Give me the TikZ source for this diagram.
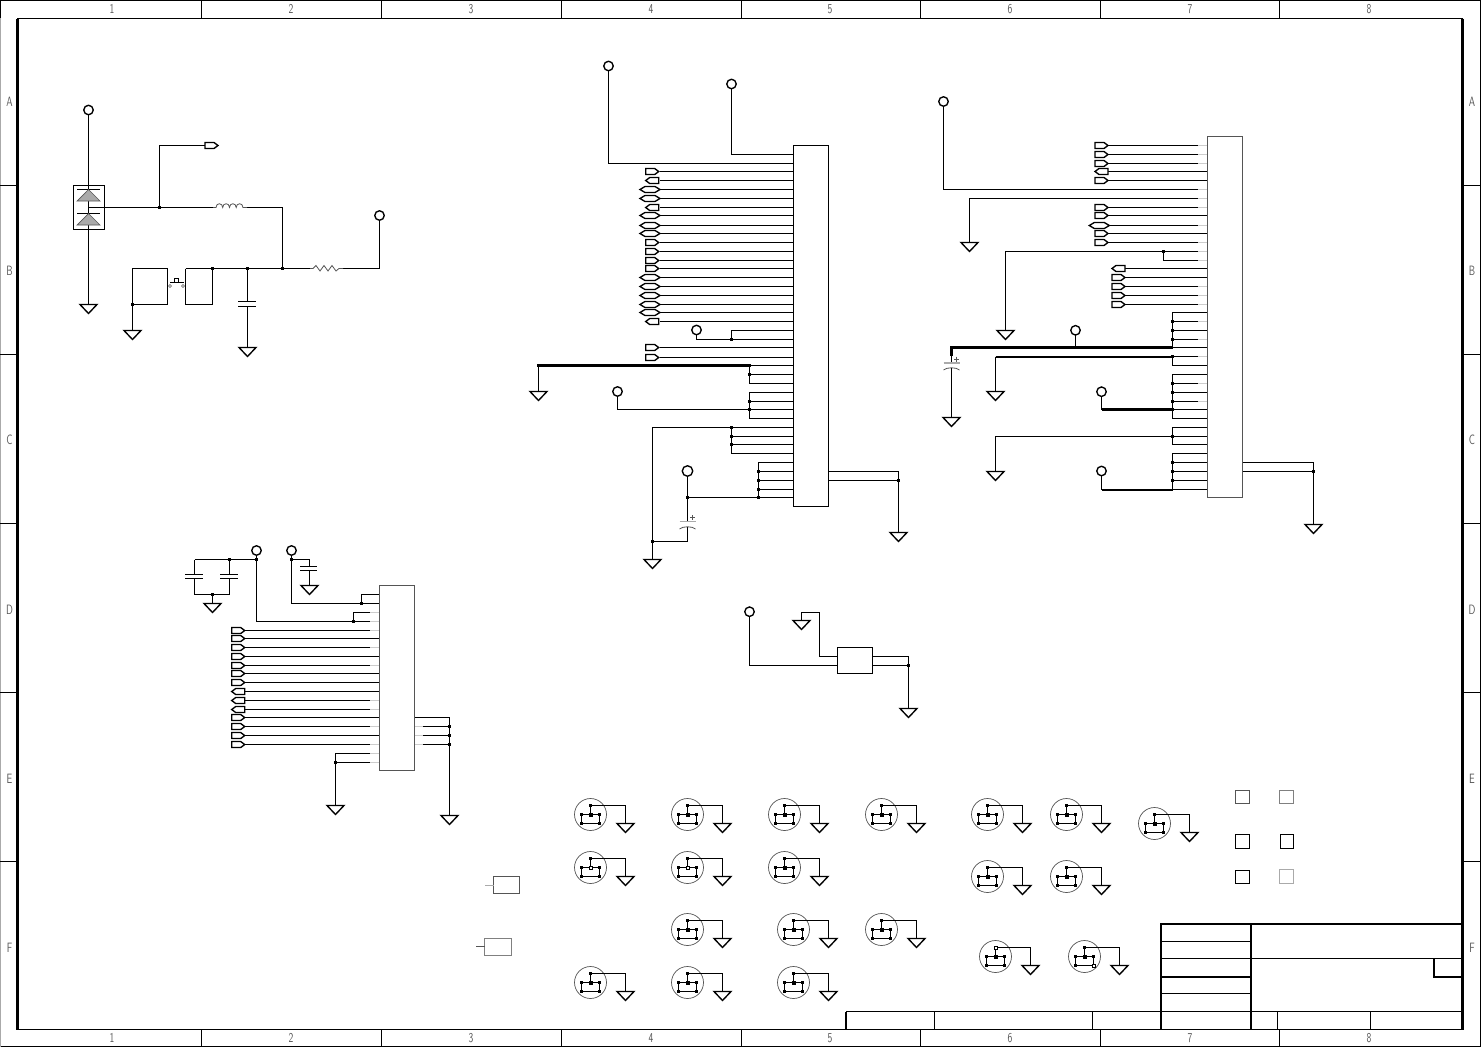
\documentclass[tikz,border=0pt]{standalone}
\definecolor{symgray}{HTML}{AAAAAA}
\definecolor{icgray}{HTML}{555555}
\definecolor{stubgray}{HTML}{CCCCCC}
\definecolor{labgray}{HTML}{555555}
\tikzset{
  wire/.style={line width=1.2pt,black,line join=miter},
  thin part/.style={line width=.8pt,icgray},
  gsym/.style={line width=1.35pt,black,fill=white,line join=miter},
  vcc/.style={circle,draw=black,fill=white,line width=1.35pt,minimum size=9.5pt,inner sep=0pt,outer sep=0pt},
  jct/.style={rectangle,fill=black,minimum size=3.4pt,inner sep=0pt,outer sep=0pt},
  ic/.style={rectangle,draw=black,line width=1.2pt,inner sep=0pt,outer sep=0pt},
  icg/.style={rectangle,draw=icgray,line width=1.2pt,inner sep=0pt,outer sep=0pt},
  stub/.style={line width=1.2pt,stubgray},
  holec/.style={circle,draw=icgray,line width=.7pt,minimum size=32pt,inner sep=0pt,outer sep=0pt},
  lab/.style={text=labgray,font=\sffamily\fontsize{13.5}{13.5}\selectfont,inner sep=0pt},
  frame/.style={line width=1.4pt,black},
  tb/.style={line width=1.9pt,black},
  tbthin/.style={line width=1.1pt,black},
  padbox/.style={rectangle,line width=1pt,inner sep=0pt,outer sep=0pt}
}
\newcommand\gnd[3]{\coordinate (#1) at (#2,#3);\draw[gsym] (#2-8.5,#3) -- (#2+8.5,#3) -- (#2,#3+9) -- cycle;}
\newcommand\portR[3]{\coordinate (#1) at (#2+13,#3);\draw[gsym] (#2,#3-3) -- (#2+9,#3-3) -- (#2+13,#3) -- (#2+9,#3+3) -- (#2,#3+3) -- cycle;}
\newcommand\portL[3]{\coordinate (#1) at (#2+13,#3);\draw[gsym] (#2+13,#3-3) -- (#2+4,#3-3) -- (#2,#3) -- (#2+4,#3+3) -- (#2+13,#3+3) -- cycle;}
\newcommand\portB[3]{\coordinate (#1) at (#2+14.3,#3);\draw[gsym] (#2-5.7,#3) -- (#2-.7,#3-3) -- (#2+9.3,#3-3) -- (#2+14.3,#3) -- (#2+9.3,#3+3) -- (#2-.7,#3+3) -- cycle;}
\newcommand\mth[4][black]{%
  \node[holec] (#2c) at (#3,#4) {};
  \draw[line width=1.05pt,black] (#3-9,#4) rectangle (#3+9,#4+9);
  \node[jct] (#2t) at (#3,#4-9) {};
  \node[jct,fill=#1,draw=black,line width=.4pt,minimum size=2.8pt] (#2m) at (#3,#4) {};
  \node[jct] (#2a) at (#3-9,#4) {};
  \node[jct] (#2b) at (#3+9,#4) {};
  \node[jct] (#2d) at (#3-9,#4+9) {};
  \node[jct] (#2e) at (#3+9,#4+9) {};
  \draw[line width=1.05pt,black] (#2t) -- (#2m);
  \gnd{#2g}{#3+35}{#4+9}
  \draw[wire] (#2t) -| (#2g);
}
\begin{document}
\begin{tikzpicture}[x=1pt,y=-1pt]
\useasboundingbox (0,0) rectangle (1481,1047);
\fill[white] (0,0) rectangle (1481,1047);
% ---- sheet frame
\draw[frame] (.7,.7) rectangle (1480.3,1046.3);
\draw[frame] (17.5,18.5) rectangle (1462.5,1029.5);
\draw[line width=2.4pt] (17.5,18.5) -- (17.5,1029.5);
\draw[line width=2.4pt] (1462.5,18.5) -- (1462.5,1029.5);
\draw[symgray,line width=1.5pt] (.5,18) -- (.5,1047);
\foreach \x in {201.5,381.5,561.5,741.5,920.5,1100.5,1279.5}{
  \draw[wire] (\x,0) -- (\x,18.5);
  \draw[wire] (\x,1029.5) -- (\x,1046);
}
\foreach \y in {185.5,354.5,523.5,692.5,861.5}{
  \draw[wire,line width=1.4pt] (0,\y) -- (17.5,\y);
  \draw[wire,line width=1.4pt] (1462.5,\y) -- (1480,\y);
}
\foreach \n/\x in {1/112,2/291,3/471,4/651,5/830,6/1010,7/1190,8/1369}{
  \node[lab] (ct\n) at (\x,9.3) {\scalebox{.72}[1]{\n}};
  \node[lab] (cb\n) at (\x,1038.3) {\scalebox{.72}[1]{\n}};
}
\foreach \n/\y in {A/101.5,B/270.5,C/439.5,D/609.5,E/778.5,F/947.5}{
  \node[lab] (rl\n) at (9.5,\y) {\scalebox{.72}[1]{\n}};
  \node[lab] (rr\n) at (1472,\y) {\scalebox{.72}[1]{\n}};
}
% ---- title block
\draw[tb] (1161,1029.5) -- (1161,924) -- (1462.5,924);
\draw[tb] (1251,924) -- (1251,1029.5);
\draw[tbthin] (1161,941.5) -- (1251,941.5);
\draw[tb] (1161,958.5) -- (1462.5,958.5);
\draw[tb] (1161,977) -- (1251,977);
\draw[tb] (1161,993.5) -- (1251,993.5);
\draw[tb] (846,1011.5) -- (1462.5,1011.5);
\draw[tb] (846,1011.5) -- (846,1029.5);
\draw[tbthin] (934.5,1011.5) -- (934.5,1029.5);
\draw[tbthin] (1092.5,1011.5) -- (1092.5,1029.5);
\draw[tbthin] (1277.5,1011.5) -- (1277.5,1029.5);
\draw[tb] (1370.5,1011.5) -- (1370.5,1029.5);
\draw[tb] (1434,958.5) -- (1434,977) -- (1462.5,977);

% ---- block 1 : supply
\node[vcc] (V1) at (88.5,110) {};
\gnd{G1}{88.5}{304.5}
\draw[wire] (V1.south) -- (G1);
\node[ic,minimum width=31pt,minimum height=44pt] (D1) at (89,207.5) {};
\foreach \y in {189.5,213.5}{
  \draw[line width=.9pt,black] (77,\y) -- (100,\y);
  \draw[line width=.7pt,icgray,fill=symgray] (88.5,\y) -- (100,\y+11.5) -- (77,\y+11.5) -- cycle;
}
\coordinate (Dm) at (88.5,207.5);
\node[jct] (J1) at (159.5,207.5) {};
\coordinate (L1a) at (213,207.5);
\coordinate (L1b) at (247,207.5);
\node[jct] (J2) at (282.5,268.5) {};
\draw[wire] (Dm) -- (J1) -- (L1a);
\draw[wire] (L1b) -| (J2);
\draw[thin part] (L1a) -- (216,207.5) .. controls (216,202.5) and (222.7,202.5) .. (222.7,207.5)
  .. controls (222.7,202.5) and (229.5,202.5) .. (229.5,207.5)
  .. controls (229.5,202.5) and (236.2,202.5) .. (236.2,207.5)
  .. controls (236.2,202.5) and (243,202.5) .. (243,207.5) -- (L1b);
\coordinate (P1w) at (205,145.5);
\draw[wire] (J1) |- (P1w);
\portR{P1}{205}{145.5}
\node[jct] (J3) at (132.5,304.5) {};
\coordinate (S1b) at (167.5,268.5);
\coordinate (S1c) at (167.5,304.5);
\draw[wire] (S1c) -- (J3) |- (S1b) -- (S1c);
\gnd{G2}{132.5}{330.5}
\draw[wire] (J3) -- (G2);
\coordinate (S2a) at (185.5,268.5);
\coordinate (S2b) at (185.5,304.5);
\coordinate (S2c) at (212.5,304.5);
\node[jct] (J4) at (212.5,268.5) {};
\node[jct] (J5) at (247.5,268.5) {};
\coordinate (R1a) at (310,268.5);
\coordinate (R1b) at (343,268.5);
\draw[wire] (J2) -- (R1a);
\draw[wire] (S2a) -- (J4) -- (J5) -- (J2);
\draw[wire] (S2a) -- (S2b) -- (S2c) -- (J4);
\node[vcc] (V2) at (379.5,215.5) {};
\draw[wire] (R1b) -| (V2.south);
\draw[thin part] (R1a) -- (313,268.5) -- (316,265.5) -- (320,271) -- (324,265.5) -- (328,271) -- (332,265.5) -- (336,271) -- (339,268.5) -- (R1b);
% push button
\draw[line width=1.3pt,black] (170,282.5) -- (184,282.5);
\draw[line width=.9pt,black] (174.5,282.5) -- (174.5,278.5) -- (178.5,278.5) -- (178.5,282.5);
\draw[line width=.6pt,icgray] (170,286) circle[radius=1.5];
\draw[line width=.6pt,icgray] (183,286) circle[radius=1.5];
% cap
\coordinate (C1a) at (247.5,301.5);
\coordinate (C1b) at (247.5,306.5);
\gnd{G3}{247.5}{347.5}
\draw[wire] (J5) -- (C1a);
\draw[wire] (C1b) -- (G3);
\draw[line width=1.2pt] (238,301.5) -- (256,301.5);
\draw[line width=1.2pt] (238,306.5) -- (256,306.5);

% ---- block 2 : main IC
\foreach \y in {154,163,171,180,189,198,207,215,225,233,242,251,260,268,277,286,295,304,312,321,330,339,347,357,365,374,383,392,401,409,418,427,436,444,453,462,471,480,489,497}{
  \coordinate (A\y) at (793.5,\y+.5);
}
\foreach \y/\k in {171/R,180/L,189/B,198/B,207/L,215/B,225/B,233/B,242/R,251/R,260/R,268/R,277/B,286/B,295/B,304/B,312/B,321/L,347/R,357/R}{
  \draw[wire] (660,\y.5) -- (A\y);
  \csname port\k\endcsname{pA\y}{645.7}{\y.5}
}
\node[vcc] (V3) at (608.5,66) {};
\draw[wire] (V3.south) |- (A163);
\node[vcc] (V4) at (731.5,84) {};
\draw[wire] (V4.south) |- (A154);
\node[vcc] (V5) at (696.5,330) {};
\node[jct] (J6) at (731.5,339.5) {};
\draw[wire] (V5.south) |- (J6) -- (A339);
\draw[wire] (J6) |- (A330);
% thick ground bus
\coordinate (T1a) at (538.5,365.5);
\coordinate (T1b) at (749.5,365.5);
\draw[line width=3pt,black,line cap=rect] (T1a) -- (T1b);
\gnd{G4}{538.5}{391.5}
\draw[wire] (T1a) -- (G4);
\node[jct] (J7) at (749.5,374.5) {};
\coordinate (T1c) at (749.5,383.5);
\draw[wire] (T1b) -- (A365);
\draw[wire] (J7) -- (A374);
\draw[wire] (T1b) -- (T1c) -- (A383);
% supply group
\coordinate (T2a) at (749.5,392.5);
\coordinate (T2b) at (749.5,418.5);
\node[jct] (J8) at (749.5,401.5) {};
\node[jct] (J9) at (749.5,409.5) {};
\draw[wire] (A392) -- (T2a) -- (T2b) -- (A418);
\draw[wire] (J8) -- (A401);
\draw[wire] (J9) -- (A409);
\node[vcc] (V6) at (617.5,391.5) {};
\draw[wire] (V6.south) |- (J9);
% ground group
\node[jct] (J10) at (731.5,427.5) {};
\node[jct] (J11) at (731.5,436.5) {};
\node[jct] (J12) at (731.5,444.5) {};
\coordinate (T3b) at (731.5,453.5);
\draw[wire] (J10) -- (A427);
\draw[wire] (J11) -- (A436);
\draw[wire] (J12) -- (A444);
\draw[wire] (J10) -- (T3b) -- (A453);
\gnd{G5}{652.5}{559.5}
\node[jct] (J13) at (652.5,541.5) {};
\draw[wire] (J10) -| (G5);
% decoupling
\node[vcc,minimum size=10.5pt] (V7) at (687.5,471) {};
\node[jct] (J14) at (687.5,497.5) {};
\node[jct] (J15) at (758.5,471.5) {};
\node[jct] (J16) at (758.5,480.5) {};
\node[jct] (J17) at (758.5,489.5) {};
\node[jct] (J18) at (758.5,497.5) {};
\coordinate (T4a) at (758.5,462.5);
\draw[wire] (V7.south) -- (J14) -- (J18) -- (A497);
\draw[wire] (A462) -- (T4a) -- (J18);
\draw[wire] (J15) -- (A471);
\draw[wire] (J16) -- (A480);
\draw[wire] (J17) -- (A489);
\coordinate (C2a) at (687.5,521.5);
\coordinate (C2b) at (687.5,527);
\draw[wire] (J14) -- (C2a);
\draw[wire] (C2b) |- (J13);
\draw[line width=1.2pt,symgray] (679.5,521.5) -- (695.5,521.5);
\draw[line width=.8pt,icgray] (679.5,529) .. controls (683,526) and (692,526) .. (695.5,529);
\draw[line width=.6pt,icgray] (690,517.5) -- (695,517.5) (692.5,515) -- (692.5,520);
\node[ic,minimum width=35pt,minimum height=361pt] (U1) at (811,326) {};
\coordinate (U1r1) at (828.5,471.5);
\coordinate (U1r2) at (828.5,480.5);
\coordinate (T5) at (898.5,471.5);
\node[jct] (J19) at (898.5,480.5) {};
\gnd{G6}{898.5}{532.5}
\draw[wire] (U1r1) -- (T5) -- (J19) -- (G6);
\draw[wire] (U1r2) -- (J19);

% ---- block 3 : second IC
\foreach \y in {145,154,163,171,180,189,198,207,215,225,233,242,251,260,268,277,286,295,304,312,321,330,339,347,356,365,374,383,392,401,409,418,427,436,444,453,462,471,480,489}{
  \coordinate (B\y) at (1207.5,\y+.5);
}
\foreach \y/\k in {145/R,154/R,163/R,171/L,180/R,207/R,215/R,225/B,233/R,242/R}{
  \draw[wire] (1108,\y.5) -- (B\y);
  \csname port\k\endcsname{pB\y}{1095}{\y.5}
}
\foreach \y/\k in {268/L,277/R,286/R,295/R,304/R}{
  \draw[wire] (1125,\y.5) -- (B\y);
  \csname port\k\endcsname{pB\y}{1112}{\y.5}
}
\node[vcc] (V8) at (943.5,101.5) {};
\draw[wire] (V8.south) |- (B189);
\gnd{G7}{969.5}{242.5}
\draw[wire] (G7) |- (B198);
\gnd{G8}{1005.5}{330.5}
\node[jct] (J20) at (1163.5,251.5) {};
\draw[wire] (G8) |- (B251);
\draw[wire] (J20) |- (B260);
% group 1
\coordinate (T6a) at (1172.5,312.5);
\coordinate (T6b) at (1172.5,347.5);
\node[jct] (J21) at (1172.5,321.5) {};
\node[jct] (J22) at (1172.5,330.5) {};
\node[jct] (J23) at (1172.5,339.5) {};
\draw[wire] (B312) -- (T6a) -- (T6b) -- (B347);
\draw[wire] (J21) -- (B321);
\draw[wire] (J22) -- (B330);
\draw[wire] (J23) -- (B339);
\coordinate (T7) at (951.5,347.5);
\coordinate (T7b) at (951.5,356);
\draw[line width=3pt,black] (T7b) -- (T7) -- (T6b);
\node[vcc] (V9) at (1075.5,330.3) {};
\coordinate (T7c) at (1075.5,347.5);
\draw[wire] (V9.south) -- (T7c);
\coordinate (C3a) at (951.5,363);
\coordinate (C3b) at (951.5,368);
\gnd{G9}{951.5}{417.5}
\draw[wire] (T7b) -- (C3a);
\draw[wire] (C3b) -- (G9);
\draw[line width=1.2pt,symgray] (943.5,363) -- (959.5,363);
\draw[line width=.8pt,icgray] (943.5,370) .. controls (947,367) and (956,367) .. (959.5,370);
\draw[line width=.6pt,icgray] (954,359) -- (959,359) (956.5,356.5) -- (956.5,361.5);
% group 2
\node[jct] (J24) at (1172.5,356.5) {};
\coordinate (T8b) at (1172.5,365.5);
\draw[wire] (J24) -- (B356);
\draw[wire] (J24) -- (T8b) -- (B365);
\gnd{G10}{995.5}{391.5}
\coordinate (T8c) at (995.5,356.5);
\draw[line width=2pt,black] (T8c) -- (J24);
\draw[wire] (T8c) -- (G10);
% group 3
\coordinate (T9a) at (1172.5,374.5);
\coordinate (T9b) at (1172.5,418.5);
\node[jct] (J25) at (1172.5,383.5) {};
\node[jct] (J26) at (1172.5,392.5) {};
\node[jct] (J27) at (1172.5,401.5) {};
\node[jct] (J28) at (1172.5,409.5) {};
\draw[wire] (B374) -- (T9a) -- (T9b) -- (B418);
\draw[wire] (J25) -- (B383);
\draw[wire] (J26) -- (B392);
\draw[wire] (J27) -- (B401);
\draw[wire] (J28) -- (B409);
\node[vcc] (V10) at (1101.5,391.7) {};
\coordinate (T9c) at (1101.5,409.5);
\draw[wire] (V10.south) -- (T9c);
\draw[line width=2.6pt,black] (T9c) -- (J28);
% group 4
\coordinate (T10a) at (1172.5,427.5);
\coordinate (T10b) at (1172.5,444.5);
\node[jct] (J29) at (1172.5,436.5) {};
\draw[wire] (B427) -- (T10a) -- (T10b) -- (B444);
\draw[wire] (J29) -- (B436);
\gnd{G11}{995.5}{471.5}
\draw[wire] (J29) -| (G11);
% group 5
\coordinate (T11a) at (1172.5,453.5);
\coordinate (T11b) at (1172.5,489.5);
\node[jct] (J30) at (1172.5,462.5) {};
\node[jct] (J31) at (1172.5,471.5) {};
\node[jct] (J32) at (1172.5,480.5) {};
\draw[wire] (B453) -- (T11a) -- (T11b) -- (B489);
\draw[wire] (J30) -- (B462);
\draw[wire] (J31) -- (B471);
\draw[wire] (J32) -- (B480);
\node[vcc] (V11) at (1101.5,471) {};
\coordinate (T11c) at (1101.5,489.5);
\draw[wire] (V11.south) -- (T11c);
\draw[line width=2pt,black] (T11c) -- (T11b);
% light pin stubs
\foreach \y in {145,154,163,189,198,207,225,242,251,260,286,295,304,321,339,356,383,401}{
  \draw[stub] (1198,\y.5) -- (1207,\y.5);
}
\node[icg,minimum width=35pt,minimum height=361pt] (U2) at (1225,317) {};
\coordinate (U2r1) at (1242.5,462.5);
\coordinate (U2r2) at (1242.5,471.5);
\coordinate (T12) at (1313.5,462.5);
\node[jct] (J33) at (1313.5,471.5) {};
\gnd{G12}{1313.5}{524.5}
\draw[wire] (U2r1) -- (T12) -- (J33) -- (G12);
\draw[wire] (U2r2) -- (J33);

% ---- block 4 : third IC
\foreach \y in {594,603,612,621,630,638,647,656,665,673,682,691,700,709,717,726,735,744,753,762}{
  \coordinate (E\y) at (379.5,\y+.5);
}
\foreach \y/\k in {630/R,638/R,647/R,656/R,665/R,673/R,682/R,691/L,700/L,709/L,717/R,726/R,735/R,744/R}{
  \draw[wire] (245,\y.5) -- (E\y);
  \csname port\k\endcsname{pE\y}{231.7}{\y.5}
}
\node[jct] (J34) at (361.5,603.5) {};
\coordinate (T13) at (361.5,594.5);
\draw[wire] (J34) -- (E603);
\draw[wire] (E594) -- (T13) -- (J34);
\node[vcc] (V12) at (291.5,550.5) {};
\node[jct] (J35) at (291.5,559.5) {};
\draw[wire] (V12.south) -- (J35) |- (J34);
\coordinate (C4a) at (309.5,566.5);
\coordinate (C4b) at (309.5,570.5);
\gnd{G13}{309.5}{585.5}
\draw[wire] (J35) -| (C4a);
\draw[wire] (C4b) -- (G13);
\draw[line width=1.2pt] (300,566.5) -- (317,566.5);
\draw[line width=1.2pt] (300,570.5) -- (317,570.5);
\node[jct,minimum size=2.5pt] (J36) at (353.5,621.5) {};
\coordinate (T14) at (353.5,612.5);
\draw[wire] (E612) -- (T14) -- (J36);
\node[vcc] (V13) at (256.5,550.5) {};
\node[jct] (J37) at (256.5,559.5) {};
\draw[wire] (V13.south) -- (J37) |- (E621);
\node[jct] (J38) at (229.5,559.5) {};
\coordinate (T15) at (194.5,559.5);
\draw[wire] (J37) -- (J38) -- (T15);
\coordinate (C5a) at (194.5,574.5);
\coordinate (C5b) at (194.5,578.5);
\coordinate (C6a) at (229.5,574.5);
\coordinate (C6b) at (229.5,578.5);
\node[jct] (J39) at (212.5,594.5) {};
\gnd{G14}{212.5}{603.5}
\draw[wire] (T15) -- (C5a);
\draw[wire] (J38) -- (C6a);
\draw[wire] (C5b) |- (J39);
\draw[wire] (C6b) |- (J39);
\draw[wire] (J39) -- (G14);
\draw[line width=1.2pt] (185,574.5) -- (203,574.5);
\draw[line width=1.2pt] (185,578.5) -- (203,578.5);
\draw[line width=1.2pt] (220,574.5) -- (238,574.5);
\draw[line width=1.2pt] (220,578.5) -- (238,578.5);
\node[jct] (J40) at (335.5,762.5) {};
\coordinate (T16) at (335.5,753.5);
\gnd{G15}{335.5}{805.5}
\draw[wire] (J40) -- (E762);
\draw[wire] (E753) -- (T16) -- (G15);
\coordinate (F717) at (414.5,717.5);
\coordinate (F726) at (414.5,726.5);
\coordinate (F735) at (414.5,735.5);
\coordinate (F744) at (414.5,744.5);
\coordinate (T17) at (449.5,717.5);
\node[jct] (J41) at (449.5,726.5) {};
\node[jct] (J42) at (449.5,735.5) {};
\node[jct] (J43) at (449.5,744.5) {};
\gnd{G16}{449.5}{815.5}
\draw[wire] (F717) -- (T17) -- (G16);
\draw[wire] (F726) -- (J41);
\draw[wire] (F735) -- (J42);
\draw[wire] (F744) -- (J43);
\foreach \y in {612,621,630,647,665,700,709,726,744,753,762}{
  \draw[stub] (370,\y.5) -- (379,\y.5);
}
\foreach \y in {726,735,744}{
  \draw[stub] (415,\y.5) -- (423,\y.5);
}
\node[icg,minimum width=35pt,minimum height=185pt] (U3) at (397,678) {};

% ---- block 5 : small IC
\node[vcc] (V14) at (749.5,611.7) {};
\node[ic,minimum width=35pt,minimum height=26pt] (U4) at (855,660.5) {};
\coordinate (U4l1) at (837.5,656.5);
\coordinate (U4l2) at (837.5,665.5);
\coordinate (U4r1) at (872.5,656.5);
\coordinate (U4r2) at (872.5,665.5);
\draw[wire] (V14.south) |- (U4l2);
\coordinate (T18) at (819.5,612.5);
\gnd{G17}{801.5}{620.5}
\draw[wire] (U4l1) -| (T18) -| (G17);
\coordinate (T19) at (908.5,656.5);
\node[jct] (J44) at (908.5,665.5) {};
\gnd{G18}{908.5}{708.5}
\draw[wire] (U4r1) -- (T19) -- (J44) -- (G18);
\draw[wire] (U4r2) -- (J44);

% ---- mounting holes
\mth{H1}{590.5}{814.5}
\mth{H2}{687.5}{814.5}
\mth{H3}{784.5}{814.5}
\mth{H4}{881.5}{814.5}
\mth{H5}{987.5}{814.5}
\mth{H6}{1066.5}{814.5}
\mth{H7}{1154.5}{823.5}
\mth[white]{H8}{590.5}{867.5}
\mth[white]{H9}{687.5}{867.5}
\mth{H10}{784.5}{867.5}
\mth{H11}{987.5}{876.5}
\mth{H12}{1066.5}{876.5}
\mth{H13}{687.5}{929.5}
\mth{H14}{793.5}{929.5}
\mth{H15}{881.5}{929.5}
\mth{H16}{995.5}{956.5}
\mth{H17}{1084.5}{956.5}
\mth{H18}{590.5}{982.5}
\mth{H19}{687.5}{982.5}
\mth{H20}{793.5}{982.5}
\draw[line width=.5pt,fill=white] (994,946) rectangle (997,949);
\draw[line width=.5pt,fill=white] (1092,964) rectangle (1095,967);

% ---- test pads
\node[padbox,draw=icgray,minimum width=14pt,minimum height=13pt] (TP1) at (1242.5,797) {};
\node[padbox,draw=gray,minimum width=14pt,minimum height=13pt] (TP2) at (1286.5,797) {};
\node[padbox,draw=black,minimum width=14pt,minimum height=14pt] (TP3) at (1242.5,841.5) {};
\node[padbox,draw=black,minimum width=13pt,minimum height=14pt] (TP4) at (1287,841.5) {};
\node[padbox,draw=black,minimum width=14pt,minimum height=13pt] (TP5) at (1242.5,877) {};
\node[padbox,draw=symgray,minimum width=14pt,minimum height=14pt] (TP6) at (1286.5,876.5) {};

% ---- connector stubs
\node[padbox,draw=icgray,minimum width=26pt,minimum height=17pt] (K1) at (506.5,885) {};
\coordinate (K1s) at (485,885.5);
\draw[line width=1pt,symgray] (K1s) -- (493.5,885.5);
\node[padbox,draw=gray,minimum width=27pt,minimum height=17pt] (K2) at (498,947) {};
\coordinate (K2s) at (476,946.5);
\draw[line width=1pt,icgray] (K2s) -- (484.5,946.5);
\end{tikzpicture}
\end{document}
